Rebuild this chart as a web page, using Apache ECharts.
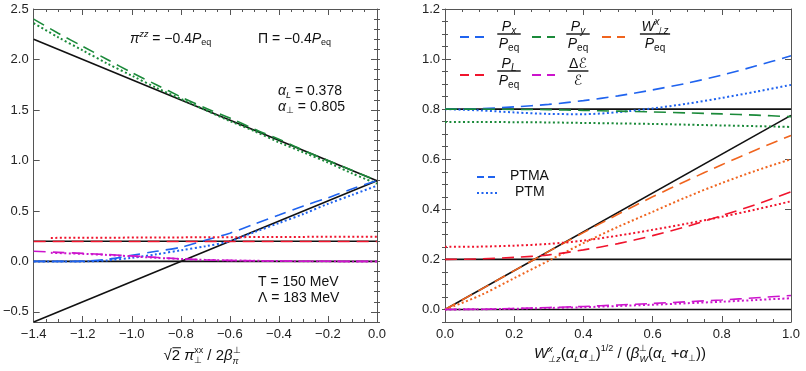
<!DOCTYPE html>
<html>
<head>
<meta charset="utf-8">
<script src="https://cdn.jsdelivr.net/npm/echarts@6/dist/echarts.min.js"></script>
<style>
html, body { margin: 0; padding: 0; background: #fff; }
#chart { width: 806px; height: 371px; }
</style>
</head>
<body>
<div id="chart"></div>
<script>
// ---- left panel: x = sqrt2 pi^xx / 2 beta ----
const xLeft = [-1.4, -1.3, -1.2, -1.1, -1.0, -0.9, -0.8, -0.7, -0.6, -0.5, -0.4, -0.3, -0.2, -0.1, 0.0];
const pyDashL = [2.40, 2.26, 2.13, 2.00, 1.87, 1.75, 1.63, 1.52, 1.42, 1.31, 1.21, 1.10, 1.00, 0.90, 0.80];
const pyDotL = [2.36, 2.22, 2.09, 1.96, 1.84, 1.72, 1.61, 1.50, 1.39, 1.29, 1.18, 1.08, 0.98, 0.87, 0.77];
const pxDashL = [0, 0, 0.003, 0.02, 0.06, 0.10, 0.14, 0.21, 0.28, 0.37, 0.46, 0.55, 0.63, 0.72, 0.80];
const pxDotL = [0, 0, 0, 0.01, 0.035, 0.07, 0.11, 0.15, 0.20, 0.29, 0.38, 0.47, 0.57, 0.66, 0.75];
const plDashL = [0.198, 0.198, 0.198, 0.198, 0.198, 0.198, 0.198, 0.198, 0.198, 0.198, 0.198, 0.198, 0.198, 0.198, 0.198];
const edDashL = [0.100, 0.090, 0.080, 0.068, 0.055, 0.040, 0.026, 0.016, 0.010, 0.006, 0.004, 0.002, 0.001, 0.000, 0.000];
// dotted PTM curves start a bit later
const xLeftDot = [-1.33, -1.2, -1.1, -1.0, -0.9, -0.8, -0.7, -0.6, -0.5, -0.4, -0.3, -0.2, -0.1, 0.0];
const plDotL = [0.233, 0.234, 0.235, 0.236, 0.237, 0.238, 0.239, 0.240, 0.241, 0.242, 0.243, 0.244, 0.245, 0.245];
const edDotL = [0.085, 0.075, 0.064, 0.050, 0.036, 0.024, 0.015, 0.010, 0.006, 0.004, 0.002, 0.001, 0.000, 0.000];
// ideal (black) lines
const idealXL = [-1.4, 0.0];
const idealPyL = [2.2, 0.8];
const idealPxL = [-0.6, 0.8];
const idealPlL = [0.2, 0.2];
const idealZeroL = [0.0, 0.0];

// ---- right panel: x = W (aL aT)^1/2 / (beta (aL + aT)) ----
const xRight = [0.0, 0.1, 0.2, 0.3, 0.4, 0.5, 0.6, 0.7, 0.8, 0.9, 1.0];
const pxDashR = [0.800, 0.802, 0.809, 0.819, 0.834, 0.853, 0.877, 0.904, 0.936, 0.973, 1.013];
const pxDotR = [0.800, 0.795, 0.787, 0.781, 0.780, 0.788, 0.803, 0.822, 0.845, 0.870, 0.897];
const pyDashR = [0.800, 0.800, 0.799, 0.798, 0.795, 0.792, 0.789, 0.785, 0.781, 0.776, 0.770];
const pyDotR = [0.749, 0.749, 0.748, 0.747, 0.745, 0.743, 0.741, 0.738, 0.735, 0.732, 0.729];
const wDashR = [0.000, 0.077, 0.155, 0.232, 0.307, 0.380, 0.450, 0.515, 0.578, 0.638, 0.695];
const wDotR = [0.000, 0.055, 0.125, 0.195, 0.265, 0.330, 0.390, 0.450, 0.505, 0.555, 0.600];
const plDashR = [0.200, 0.202, 0.208, 0.218, 0.238, 0.263, 0.295, 0.332, 0.375, 0.420, 0.470];
const plDotR = [0.250, 0.251, 0.255, 0.262, 0.275, 0.295, 0.318, 0.343, 0.370, 0.400, 0.432];
const edDashR = [0.000, 0.001, 0.004, 0.008, 0.012, 0.018, 0.024, 0.031, 0.038, 0.047, 0.056];
const edDotR = [0.000, 0.001, 0.003, 0.006, 0.009, 0.014, 0.019, 0.025, 0.031, 0.038, 0.045];
const idealXR = [0.0, 1.0];
const idealPxR = [0.8, 0.8];
const idealWR = [0.0, 0.775];
const idealPlR = [0.2, 0.2];
const idealZeroR = [0.0, 0.0];

const ticksYL = [-0.5, 0.0, 0.5, 1.0, 1.5, 2.0, 2.5];
const ticksYR = [0.0, 0.2, 0.4, 0.6, 0.8, 1.0, 1.2];

const BLUE = '#1f63ef', GREEN = '#1b8a3a', ORANGE = '#f0641e', RED = '#f0142d', MAGENTA = '#cc14cc', BLACK = '#111';
const DASH = [12, 7], DOT = [2, 2.5];
const FONT = '"Liberation Sans", Arial, sans-serif';
const SCRIPT = '"DejaVu Sans", "Noto Sans", sans-serif';
const FRAME = '#555';

const fmt = v => (v < -1e-9 ? '\u2212' : '') + Math.abs(v).toFixed(1);

function xAx(grid, pos, min, max, labels) {
  return {
    type: 'value', gridIndex: grid, position: pos, min: min, max: max, interval: 0.2,
    axisLine: { show: true, onZero: false, lineStyle: { color: FRAME, width: 1 } },
    axisTick: { show: true, inside: true, length: 6, lineStyle: { color: FRAME } },
    minorTick: { show: true, splitNumber: 4, length: 3, lineStyle: { color: FRAME } },
    splitLine: { show: false },
    axisLabel: { show: labels, margin: 6, color: '#222', fontSize: 13, fontFamily: FONT,
      formatter: fmt, showMinLabel: true, showMaxLabel: true }
  };
}
function yMajor(grid, pos, min, max, ticks, labels) {
  return {
    type: 'value', gridIndex: grid, position: pos, min: min, max: max,
    axisLine: { show: true, onZero: false, lineStyle: { color: FRAME, width: 1 } },
    axisTick: { show: true, inside: true, length: 6, customValues: ticks, lineStyle: { color: FRAME } },
    splitLine: { show: false },
    axisLabel: { show: labels, margin: 5, color: '#222', fontSize: 13, fontFamily: FONT,
      formatter: fmt, customValues: ticks }
  };
}
function yMinor(grid, pos, min, max, step) {
  return {
    type: 'value', gridIndex: grid, position: pos, min: min, max: max, interval: step,
    axisLine: { show: false },
    axisTick: { show: true, inside: true, length: 3, lineStyle: { color: FRAME } },
    splitLine: { show: false },
    axisLabel: { show: false }
  };
}

function line(xs, ys, color, type, width, right, z, smooth) {
  return {
    type: 'line', xAxisIndex: right ? 2 : 0, yAxisIndex: right ? 4 : 0,
    data: xs.map((x, i) => [x, ys[i]]),
    symbol: 'none', showSymbol: false, smooth: smooth || 0, silent: true, z: z,
    lineStyle: { color: color, width: width, type: type }
  };
}

// --- math text via measured pieces ---
const ctx = document.createElement('canvas').getContext('2d');
function fontOf(p) {
  return (p[2] ? 'italic ' : '') + p[1] + 'px ' + (p[5] && p[5].font ? p[5].font : FONT);
}
// part: [text, size, italic, dy, keepX, extra]
function eq(x, y, parts, align, out) {
  const ws = parts.map(p => { ctx.font = fontOf(p); return ctx.measureText(p[0]).width; });
  const pos = [];
  let cx = 0, kept = 0;
  parts.forEach((p, i) => {
    pos.push(cx);
    if (p[4]) { kept = ws[i]; } else { cx += Math.max(ws[i], kept); kept = 0; }
  });
  const off = align === 'center' ? -cx / 2 : (align === 'right' ? -cx : 0);
  parts.forEach((p, i) => {
    const px = x + off + pos[i], py = y + (p[3] || 0);
    out.push({
      type: 'text', silent: true, x: px, y: py,
      style: { text: p[0], font: fontOf(p), fill: '#111', textAlign: 'left', textVerticalAlign: 'middle' }
    });
    if (p[5] && p[5].over) {
      // radical bar over the argument
      out.push({ type: 'line', silent: true,
        shape: { x1: px + p[5].over, y1: py - p[1] * 0.55, x2: px + ws[i] + 1, y2: py - p[1] * 0.55 },
        style: { stroke: '#111', lineWidth: 1 } });
    }
  });
  return cx;
}
function frac(cx, cy, num, den, out) {
  const w1 = eq(cx, cy - 7, num, 'center', out);
  const w2 = eq(cx, cy + 10, den, 'center', out);
  const w = Math.max(w1, w2) + 3;
  out.push({ type: 'line', silent: true, shape: { x1: cx - w / 2, y1: cy, x2: cx + w / 2, y2: cy },
    style: { stroke: '#111', lineWidth: 1.4 } });
}
function sample(x1, x2, y, color, dash, width, out) {
  out.push({ type: 'line', silent: true, shape: { x1: x1, y1: y, x2: x2, y2: y },
    style: { stroke: color, lineWidth: width, lineDash: dash } });
}

const g = [];
// left annotations
eq(130, 39, [['π', 14, true], ['zz', 9, true, -5], [' = \u22120.4', 14], ['P', 14, true], ['eq', 9, false, 4]], 'left', g);
eq(258, 39, [['Π = \u22120.4', 14], ['P', 14, true], ['eq', 9, false, 4]], 'left', g);
eq(278, 91, [['α', 14, true], ['L', 9, true, 4], [' = 0.378', 14]], 'left', g);
eq(278, 107, [['α', 14, true], ['⊥', 9, false, 4], [' = 0.805', 14]], 'left', g);
eq(258, 282, [['T = 150 MeV', 14]], 'left', g);
eq(258, 298, [['Λ = 183 MeV', 14]], 'left', g);
// axis titles
eq(202, 356, [['√2', 15, false, 0, false, { over: 9 }], [' π', 15, true], ['⊥', 9, false, 5, true], ['xx', 9, false, -5], [' / 2', 15],
  ['β', 15, true], ['⊥', 9, false, -5, true], ['π', 9, true, 5]], 'center', g);
eq(620, 354, [['W', 15, true], ['x', 9, true, -5, true], ['⊥z', 9, true, 5], ['(', 15], ['α', 15, true], ['L', 9, true, 5],
  ['α', 15, true], ['⊥', 9, false, 5], [')', 15], ['1/2', 9, false, -5], [' / (', 15], ['β', 15, true],
  ['⊥', 9, false, -5, true], ['W', 9, true, 5], ['(', 15], ['α', 15, true], ['L', 9, true, 5], [' +', 15],
  ['α', 15, true], ['⊥', 9, false, 5], ['))', 15]], 'center', g);
// right legend
sample(460, 485, 37, BLUE, [9, 6], 1.8, g);
frac(509, 34, [['P', 14, true], ['x', 10, true, 4]], [['P', 14, true], ['eq', 10, false, 4]], g);
sample(532, 555, 37, GREEN, [9, 6], 1.8, g);
frac(578, 34, [['P', 14, true], ['y', 10, true, 4]], [['P', 14, true], ['eq', 10, false, 4]], g);
sample(602, 625, 37, ORANGE, [9, 6], 1.8, g);
frac(655, 34, [['W', 14, true], ['x', 10, true, -5, true], ['⊥z', 10, true, 4]], [['P', 14, true], ['eq', 10, false, 4]], g);
sample(460, 485, 75, RED, [9, 6], 1.8, g);
frac(509, 71, [['P', 14, true], ['L', 10, true, 4]], [['P', 14, true], ['eq', 10, false, 4]], g);
sample(532, 555, 75, MAGENTA, [9, 6], 1.8, g);
frac(578, 71, [['Δ', 14], ['ℰ', 14, true, 0, false, { font: SCRIPT }]], [['ℰ', 14, true, 0, false, { font: SCRIPT }]], g);
sample(477, 496, 177, BLUE, [7, 4], 1.8, g);
eq(510, 176, [['PTMA', 14]], 'left', g);
sample(477, 497, 193, BLUE, [2, 2.5], 2, g);
eq(515, 192, [['PTM', 14]], 'left', g);

const option = {
  animation: false,
  backgroundColor: '#fff',
  grid: [
    { left: 31, right: 429, top: 9, bottom: 49 },
    { left: 445, right: 15, top: 9, bottom: 49 }
  ],
  xAxis: [
    xAx(0, 'bottom', -1.4, 0, true),
    xAx(0, 'top', -1.4, 0, false),
    xAx(1, 'bottom', 0, 1, true),
    xAx(1, 'top', 0, 1, false)
  ],
  yAxis: [
    yMajor(0, 'left', -0.6, 2.5, ticksYL, true),
    yMinor(0, 'left', -0.6, 2.5, 0.1),
    yMajor(0, 'right', -0.6, 2.5, ticksYL, false),
    yMinor(0, 'right', -0.6, 2.5, 0.1),
    yMajor(1, 'left', -0.05, 1.2, ticksYR, true),
    yMinor(1, 'left', -0.05, 1.2, 0.05),
    yMajor(1, 'right', -0.05, 1.2, ticksYR, false),
    yMinor(1, 'right', -0.05, 1.2, 0.05)
  ],
  series: [
    // left
    line(idealXL, idealPyL, BLACK, 'solid', 1.6, false, 1),
    line(idealXL, idealPxL, BLACK, 'solid', 1.6, false, 1),
    line(idealXL, idealPlL, BLACK, 'solid', 1.6, false, 1),
    line(idealXL, idealZeroL, BLACK, 'solid', 1.6, false, 1),
    line(xLeft, pyDashL, GREEN, DASH, 1.6, false, 3, 0.3),
    line(xLeft, pyDotL, GREEN, DOT, 2, false, 3, 0.3),
    line(xLeft, pxDashL, BLUE, DASH, 1.6, false, 3, 0.3),
    line(xLeft, pxDotL, BLUE, DOT, 2, false, 3, 0.3),
    line(xLeft, plDashL, RED, DASH, 1.6, false, 3),
    line(xLeftDot, plDotL, RED, DOT, 2, false, 3),
    line(xLeft, edDashL, MAGENTA, DASH, 1.6, false, 3, 0.3),
    line(xLeftDot, edDotL, MAGENTA, DOT, 2, false, 3, 0.3),
    // right
    line(idealXR, idealPxR, BLACK, 'solid', 1.6, true, 1),
    line(idealXR, idealWR, BLACK, 'solid', 1.6, true, 1),
    line(idealXR, idealPlR, BLACK, 'solid', 1.6, true, 1),
    line(idealXR, idealZeroR, BLACK, 'solid', 1.6, true, 1),
    line(xRight, pxDashR, BLUE, DASH, 1.6, true, 3, 0.3),
    line(xRight, pxDotR, BLUE, DOT, 2, true, 3, 0.3),
    line(xRight, pyDashR, GREEN, DASH, 1.6, true, 3, 0.3),
    line(xRight, pyDotR, GREEN, DOT, 2, true, 3, 0.3),
    line(xRight, wDashR, ORANGE, DASH, 1.6, true, 3, 0.3),
    line(xRight, wDotR, ORANGE, DOT, 2, true, 3, 0.3),
    line(xRight, plDashR, RED, DASH, 1.6, true, 3, 0.3),
    line(xRight, plDotR, RED, DOT, 2, true, 3, 0.3),
    line(xRight, edDashR, MAGENTA, DASH, 1.6, true, 3, 0.3),
    line(xRight, edDotR, MAGENTA, DOT, 2, true, 3, 0.3)
  ],
  graphic: g
};

const chart = echarts.init(document.getElementById('chart'), null, { renderer: 'canvas' });
chart.setOption(option);
</script>
</body>
</html>
